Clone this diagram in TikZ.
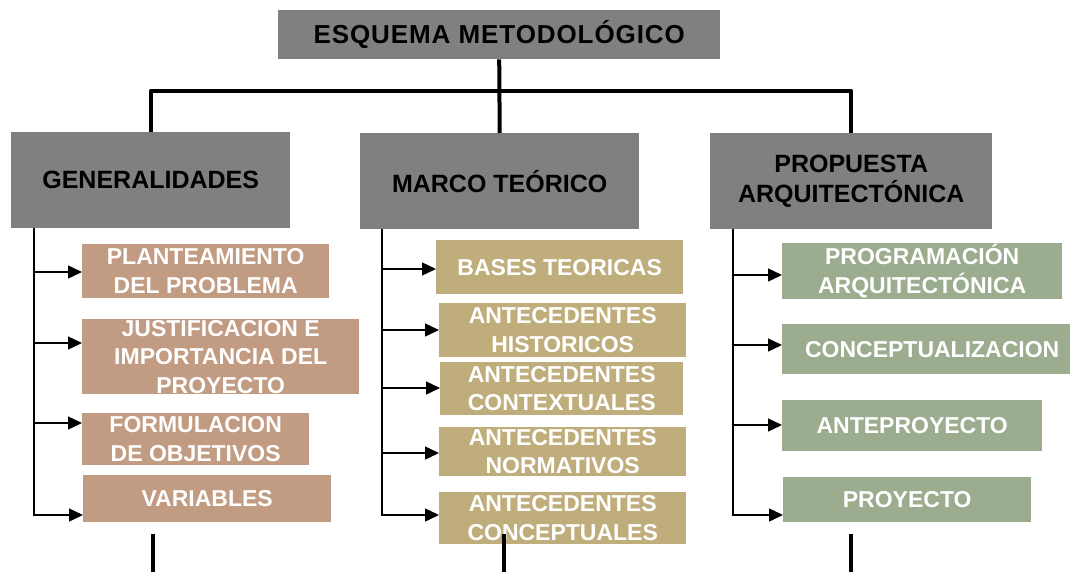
\documentclass[tikz,border=0pt]{standalone}
\usepackage{fontspec}
\setmainfont{Liberation Sans}
\usetikzlibrary{arrows.meta}
\definecolor{headgray}{RGB}{128,128,128}
\definecolor{planbrown}{RGB}{193,155,130}
\definecolor{theokhaki}{RGB}{191,174,124}
\definecolor{propgreen}{RGB}{155,172,143}
\begin{document}
\begin{tikzpicture}[x=1pt,y=-1pt,
  head/.style={fill=headgray,inner sep=0pt,anchor=north west,align=center,font=\bfseries\fontsize{25}{30}\selectfont},
  item/.style={text=white,inner sep=0pt,anchor=north west,align=center,font=\bfseries\fontsize{23}{28.5}\selectfont},
  bus/.style={line width=4pt,line join=round},
  feed/.style={line width=1.4pt,-{Triangle[length=14pt,width=13pt]}}]
\useasboundingbox (0,0) rectangle (1070,571);
\node[head,minimum width=442pt,minimum height=49pt,font=\bfseries\fontsize{26}{30}\selectfont\addfontfeatures{LetterSpace=3.5}] (title) at (278,10) {ESQUEMA METODOLÓGICO};
\node[head,minimum width=279pt,minimum height=96pt] (gen) at (11,132) {GENERALIDADES};
\node[head,minimum width=279pt,minimum height=96pt] (marco) at (360,133) {MARCO TEÓRICO};
\node[head,minimum width=282pt,minimum height=96pt] (prop) at (710,133) {PROPUESTA\\ARQUITECTÓNICA};
\coordinate (bus) at (500,91);
\draw[bus] (title.south) -- (marco.north);
\draw[bus] (gen.north) |- (bus) -| (prop.north);
% generalidades
\node[item,fill=planbrown,minimum width=247pt,minimum height=54pt] (plan) at (82,244) {PLANTEAMIENTO\\DEL PROBLEMA};
\node[item,fill=planbrown,minimum width=277pt,minimum height=75pt] (just) at (82,319) {JUSTIFICACION E\\IMPORTANCIA DEL\\PROYECTO};
\node[item,fill=planbrown,minimum width=227pt,minimum height=52pt] (form) at (82,413) {FORMULACION\\DE OBJETIVOS};
\node[item,fill=planbrown,minimum width=248pt,minimum height=47pt] (var) at (83,475) {VARIABLES};
\coordinate (t1) at (34,515);
\draw[feed] (gen.south -| t1) -- (t1) -- (t1 -| var.west);
\foreach \n/\y in {plan/272,just/343,form/423} \draw[feed] (t1 |- 0,\y) -- (\n.west |- 0,\y);
% marco teorico
\node[item,fill=theokhaki,minimum width=247pt,minimum height=54pt] (bases) at (436,240) {BASES TEORICAS};
\node[item,fill=theokhaki,minimum width=247pt,minimum height=54pt] (hist) at (439,303) {ANTECEDENTES\\HISTORICOS};
\node[item,fill=theokhaki,minimum width=243pt,minimum height=53pt] (cont) at (440,362) {ANTECEDENTES\\CONTEXTUALES};
\node[item,fill=theokhaki,minimum width=247pt,minimum height=49pt] (norm) at (439,427) {ANTECEDENTES\\NORMATIVOS};
\node[item,fill=theokhaki,minimum width=247pt,minimum height=52pt] (conc) at (439,492) {ANTECEDENTES\\CONCEPTUALES};
\coordinate (t2) at (382,515);
\draw[feed] (marco.south -| t2) -- (t2) -- (t2 -| conc.west);
\foreach \n/\y in {bases/269,hist/330,cont/388,norm/453} \draw[feed] (t2 |- 0,\y) -- (\n.west |- 0,\y);
% propuesta
\node[item,fill=propgreen,minimum width=280pt,minimum height=56pt] (prog) at (782,243) {PROGRAMACIÓN\\ARQUITECTÓNICA};
\node[item,fill=propgreen,minimum width=300pt,minimum height=50pt] (concep) at (782,324) {CONCEPTUALIZACION};
\node[item,fill=propgreen,minimum width=260pt,minimum height=51pt] (ante) at (782,400) {ANTEPROYECTO};
\node[item,fill=propgreen,minimum width=248pt,minimum height=45pt] (proy) at (783,477) {PROYECTO};
\coordinate (t3) at (733,515);
\draw[feed] (prop.south -| t3) -- (t3) -- (t3 -| proy.west);
\foreach \n/\y in {prog/275,concep/345,ante/425} \draw[feed] (t3 |- 0,\y) -- (\n.west |- 0,\y);
\foreach \x in {153,504,851} \draw[line width=4.5pt] (\x,534) -- (\x,575);
\end{tikzpicture}
\end{document}
